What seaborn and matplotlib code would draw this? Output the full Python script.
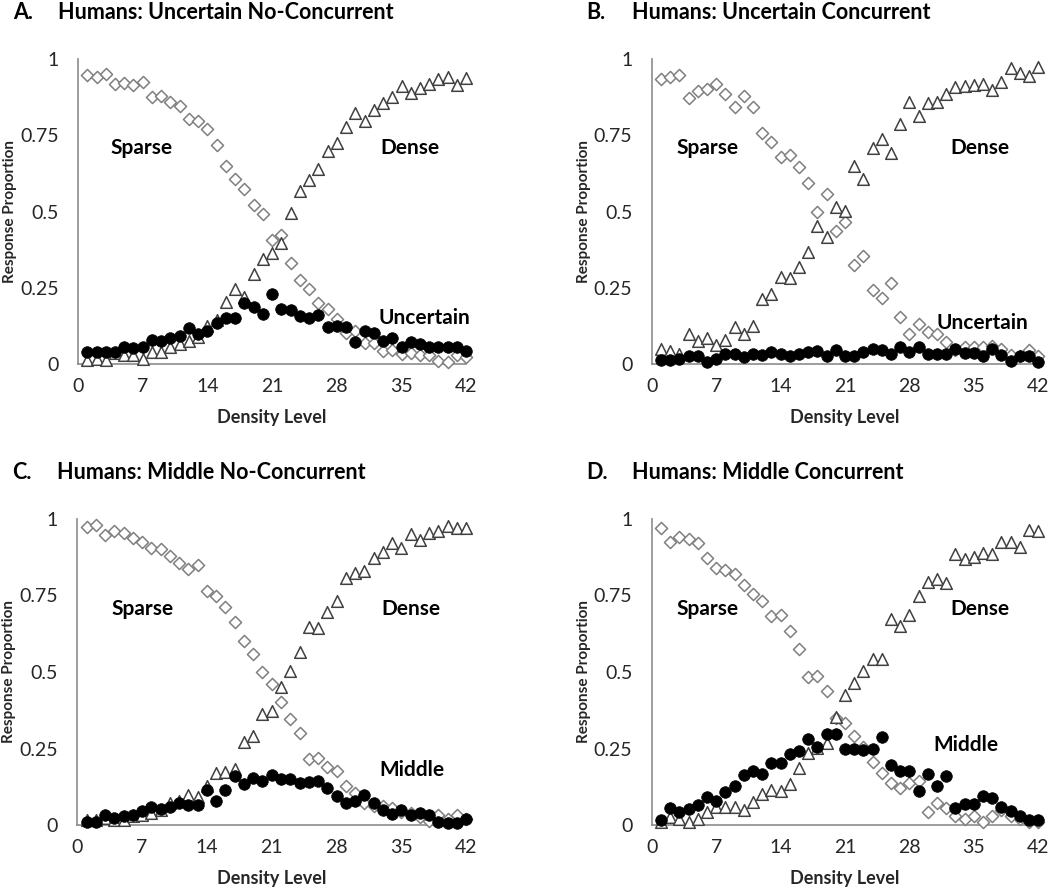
import pandas as pd
import seaborn as sns
import matplotlib.pyplot as plt

# Density levels shown on the x axis
density = list(range(1, 43))

# Panel A: Uncertain No-Concurrent
a_sparse = [0.948, 0.94, 0.95, 0.918, 0.92, 0.915, 0.925, 0.876, 0.88, 0.86, 0.846, 0.803, 0.796, 0.77,
            0.718, 0.649, 0.608, 0.575, 0.52, 0.492, 0.405, 0.424, 0.331, 0.274, 0.247, 0.201, 0.181, 0.148,
            0.101, 0.107, 0.068, 0.068, 0.044, 0.047, 0.033, 0.036, 0.028, 0.03, 0.011, 0.006, 0.03, 0.022]
a_dense = [0.012, 0.017, 0.012, 0.035, 0.028, 0.031, 0.017, 0.041, 0.041, 0.055, 0.064, 0.077, 0.09, 0.126,
           0.145, 0.203, 0.247, 0.219, 0.294, 0.345, 0.365, 0.398, 0.495, 0.568, 0.603, 0.638, 0.698, 0.725,
           0.778, 0.824, 0.796, 0.833, 0.856, 0.876, 0.91, 0.89, 0.904, 0.918, 0.933, 0.942, 0.916, 0.937]
a_uncertain = [0.039, 0.039, 0.038, 0.039, 0.055, 0.053, 0.057, 0.079, 0.075, 0.085, 0.091, 0.119, 0.099, 0.107,
               0.134, 0.15, 0.15, 0.2, 0.187, 0.163, 0.23, 0.181, 0.178, 0.156, 0.152, 0.161, 0.121, 0.124,
               0.121, 0.072, 0.107, 0.102, 0.074, 0.085, 0.056, 0.073, 0.065, 0.057, 0.057, 0.055, 0.056, 0.044]

# Panel B: Uncertain Concurrent
b_sparse = [0.934, 0.942, 0.948, 0.871, 0.894, 0.902, 0.918, 0.885, 0.844, 0.88, 0.844, 0.759, 0.729, 0.68,
            0.685, 0.645, 0.592, 0.5, 0.557, 0.435, 0.465, 0.326, 0.353, 0.243, 0.215, 0.266, 0.155, 0.099,
            0.131, 0.106, 0.099, 0.073, 0.045, 0.055, 0.055, 0.057, 0.06, 0.05, 0.03, 0.025, 0.045, 0.025]
b_dense = [0.049, 0.044, 0.033, 0.098, 0.076, 0.084, 0.062, 0.08, 0.12, 0.098, 0.123, 0.213, 0.229, 0.286,
           0.283, 0.317, 0.366, 0.453, 0.415, 0.514, 0.503, 0.648, 0.607, 0.708, 0.738, 0.691, 0.787, 0.86,
           0.814, 0.855, 0.86, 0.885, 0.908, 0.913, 0.914, 0.918, 0.897, 0.924, 0.97, 0.953, 0.943, 0.973]
b_uncertain = [0.013, 0.013, 0.018, 0.027, 0.027, 0.005, 0.018, 0.033, 0.033, 0.022, 0.033, 0.029, 0.04, 0.033,
               0.027, 0.033, 0.038, 0.044, 0.027, 0.045, 0.027, 0.027, 0.038, 0.049, 0.045, 0.034, 0.057, 0.038,
               0.055, 0.034, 0.034, 0.034, 0.049, 0.035, 0.035, 0.027, 0.049, 0.031, 0.011, 0.027, 0.027, 0.005]

# Panel C: Middle No-Concurrent
c_sparse = [0.975, 0.98, 0.948, 0.962, 0.955, 0.937, 0.924, 0.906, 0.902, 0.879, 0.857, 0.837, 0.848, 0.765,
            0.748, 0.711, 0.662, 0.6, 0.558, 0.5, 0.461, 0.401, 0.347, 0.3, 0.215, 0.218, 0.191, 0.178,
            0.128, 0.104, 0.071, 0.062, 0.062, 0.055, 0.041, 0.038, 0.027, 0.014, 0.033, 0.02, 0.033, 0.02]
c_dense = [0.015, 0.017, 0.022, 0.017, 0.017, 0.03, 0.033, 0.038, 0.049, 0.071, 0.077, 0.098, 0.093, 0.126,
           0.171, 0.174, 0.182, 0.272, 0.291, 0.362, 0.374, 0.452, 0.504, 0.564, 0.648, 0.645, 0.697, 0.732,
           0.806, 0.822, 0.83, 0.871, 0.893, 0.92, 0.906, 0.95, 0.931, 0.953, 0.961, 0.977, 0.969, 0.97]
c_middle = [0.011, 0.011, 0.033, 0.022, 0.03, 0.033, 0.046, 0.058, 0.052, 0.058, 0.073, 0.065, 0.065, 0.114,
            0.08, 0.114, 0.16, 0.133, 0.155, 0.144, 0.163, 0.149, 0.149, 0.136, 0.142, 0.144, 0.12, 0.096,
            0.071, 0.077, 0.098, 0.071, 0.049, 0.036, 0.049, 0.033, 0.038, 0.033, 0.011, 0.008, 0.008, 0.02]

# Panel D: Middle Concurrent
d_sparse = [0.969, 0.924, 0.942, 0.935, 0.92, 0.871, 0.839, 0.833, 0.82, 0.785, 0.754, 0.733, 0.683, 0.686,
            0.634, 0.575, 0.485, 0.488, 0.439, 0.349, 0.333, 0.292, 0.254, 0.205, 0.171, 0.136, 0.12, 0.138,
            0.144, 0.041, 0.071, 0.055, 0.03, 0.02, 0.03, 0.01, 0.03, 0.05, 0.03, 0.02, 0.01, 0.01]
d_dense = [0.011, 0.025, 0.019, 0.011, 0.019, 0.041, 0.06, 0.059, 0.059, 0.048, 0.076, 0.1, 0.114, 0.11,
           0.133, 0.187, 0.236, 0.252, 0.267, 0.354, 0.425, 0.463, 0.504, 0.541, 0.541, 0.672, 0.65, 0.686,
           0.748, 0.795, 0.804, 0.792, 0.884, 0.868, 0.875, 0.89, 0.885, 0.925, 0.925, 0.91, 0.965, 0.962]
d_middle = [0.017, 0.057, 0.041, 0.054, 0.065, 0.093, 0.079, 0.107, 0.128, 0.164, 0.177, 0.167, 0.202, 0.202,
            0.232, 0.243, 0.281, 0.255, 0.296, 0.299, 0.247, 0.247, 0.245, 0.25, 0.288, 0.197, 0.175, 0.178,
            0.11, 0.166, 0.128, 0.16, 0.055, 0.068, 0.068, 0.095, 0.088, 0.06, 0.045, 0.03, 0.015, 0.015]

x_ticks = [0, 7, 14, 21, 28, 35, 42]
y_ticks = [0, 0.25, 0.5, 0.75, 1]
y_ticklabels = ['0', '0.25', '0.5', '0.75', '1']

sns.set_style("white")
plt.rcParams['font.family'] = ['Lato', 'DejaVu Sans']

fig = plt.figure(figsize=(10.5, 8.9), dpi=100)

AXIS_GRAY = '#8c8c8c'
TEXT = '#262626'


def draw_panel(rect, letter, title, sparse, dense, third, third_name, label_pos):
    ax = fig.add_axes(rect)
    df = pd.DataFrame({'Density': density, 'Sparse': sparse, 'Dense': dense, third_name: third})

    sns.scatterplot(data=df, x='Density', y='Sparse', ax=ax, marker='D', s=38,
                    facecolor='white', edgecolor='#7f7f7f', linewidth=1.1, clip_on=False, zorder=3)
    sns.scatterplot(data=df, x='Density', y='Dense', ax=ax, marker='^', s=70,
                    facecolor='white', edgecolor='#404040', linewidth=1.1, clip_on=False, zorder=4)
    sns.scatterplot(data=df, x='Density', y=third_name, ax=ax, marker='o', s=70,
                    color='black', edgecolor='black', linewidth=0.5, clip_on=False, zorder=5)

    ax.set_xlim(0, 42)
    ax.set_ylim(0, 1)
    ax.set_xticks(x_ticks)
    ax.set_yticks(y_ticks)
    ax.set_yticklabels(y_ticklabels)
    ax.tick_params(axis='both', labelsize=14, colors=AXIS_GRAY, labelcolor=TEXT,
                   direction='out', length=4, width=1.2)
    ax.tick_params(axis='x', pad=6)
    ax.tick_params(axis='y', pad=10)
    for side in ['top', 'right']:
        ax.spines[side].set_visible(False)
    for side in ['left', 'bottom']:
        ax.spines[side].set_color(AXIS_GRAY)
        ax.spines[side].set_linewidth(1.2)

    ax.set_xlabel('Density Level', fontsize=13, fontweight='bold', color=TEXT, labelpad=10)
    ax.set_ylabel('Response Proportion', fontsize=11, fontweight='bold', color=TEXT, labelpad=2)

    (sx, sy), (dx, dy), (tx, ty) = label_pos
    ax.text(sx, sy, 'Sparse', fontsize=15, fontweight='bold', ha='center', va='center', color='black')
    ax.text(dx, dy, 'Dense', fontsize=15, fontweight='bold', ha='center', va='center', color='black')
    ax.text(tx, ty, third_name, fontsize=15, fontweight='bold', ha='center', va='center', color='black')

    # panel heading above the axes
    left, bottom, width, height = rect
    top = bottom + height
    fig.text(left - 0.062, top + 0.052, letter, fontsize=15.5, fontweight='bold', color='black', va='center')
    fig.text(left - 0.019, top + 0.052, title, fontsize=15.5, fontweight='bold', color='black', va='center')
    return ax


draw_panel([0.0743, 0.591, 0.3697, 0.3427], 'A.', 'Humans: Uncertain No-Concurrent',
           a_sparse, a_dense, a_uncertain, 'Uncertain', [(6.9, 0.708), (35.9, 0.708), (37.5, 0.15)])
draw_panel([0.6207, 0.591, 0.368, 0.3427], 'B.', 'Humans: Uncertain Concurrent',
           b_sparse, b_dense, b_uncertain, 'Uncertain', [(6.1, 0.708), (35.7, 0.708), (35.9, 0.135)])
draw_panel([0.0736, 0.073, 0.3704, 0.3439], 'C.', 'Humans: Middle No-Concurrent',
           c_sparse, c_dense, c_middle, 'Middle', [(7.0, 0.706), (36.0, 0.706), (36.1, 0.18)])
draw_panel([0.6207, 0.073, 0.368, 0.3439], 'D.', 'Humans: Middle Concurrent',
           d_sparse, d_dense, d_middle, 'Middle', [(6.1, 0.706), (35.7, 0.706), (34.1, 0.26)])

fig.savefig('out.png', dpi=100)
plt.close(fig)
